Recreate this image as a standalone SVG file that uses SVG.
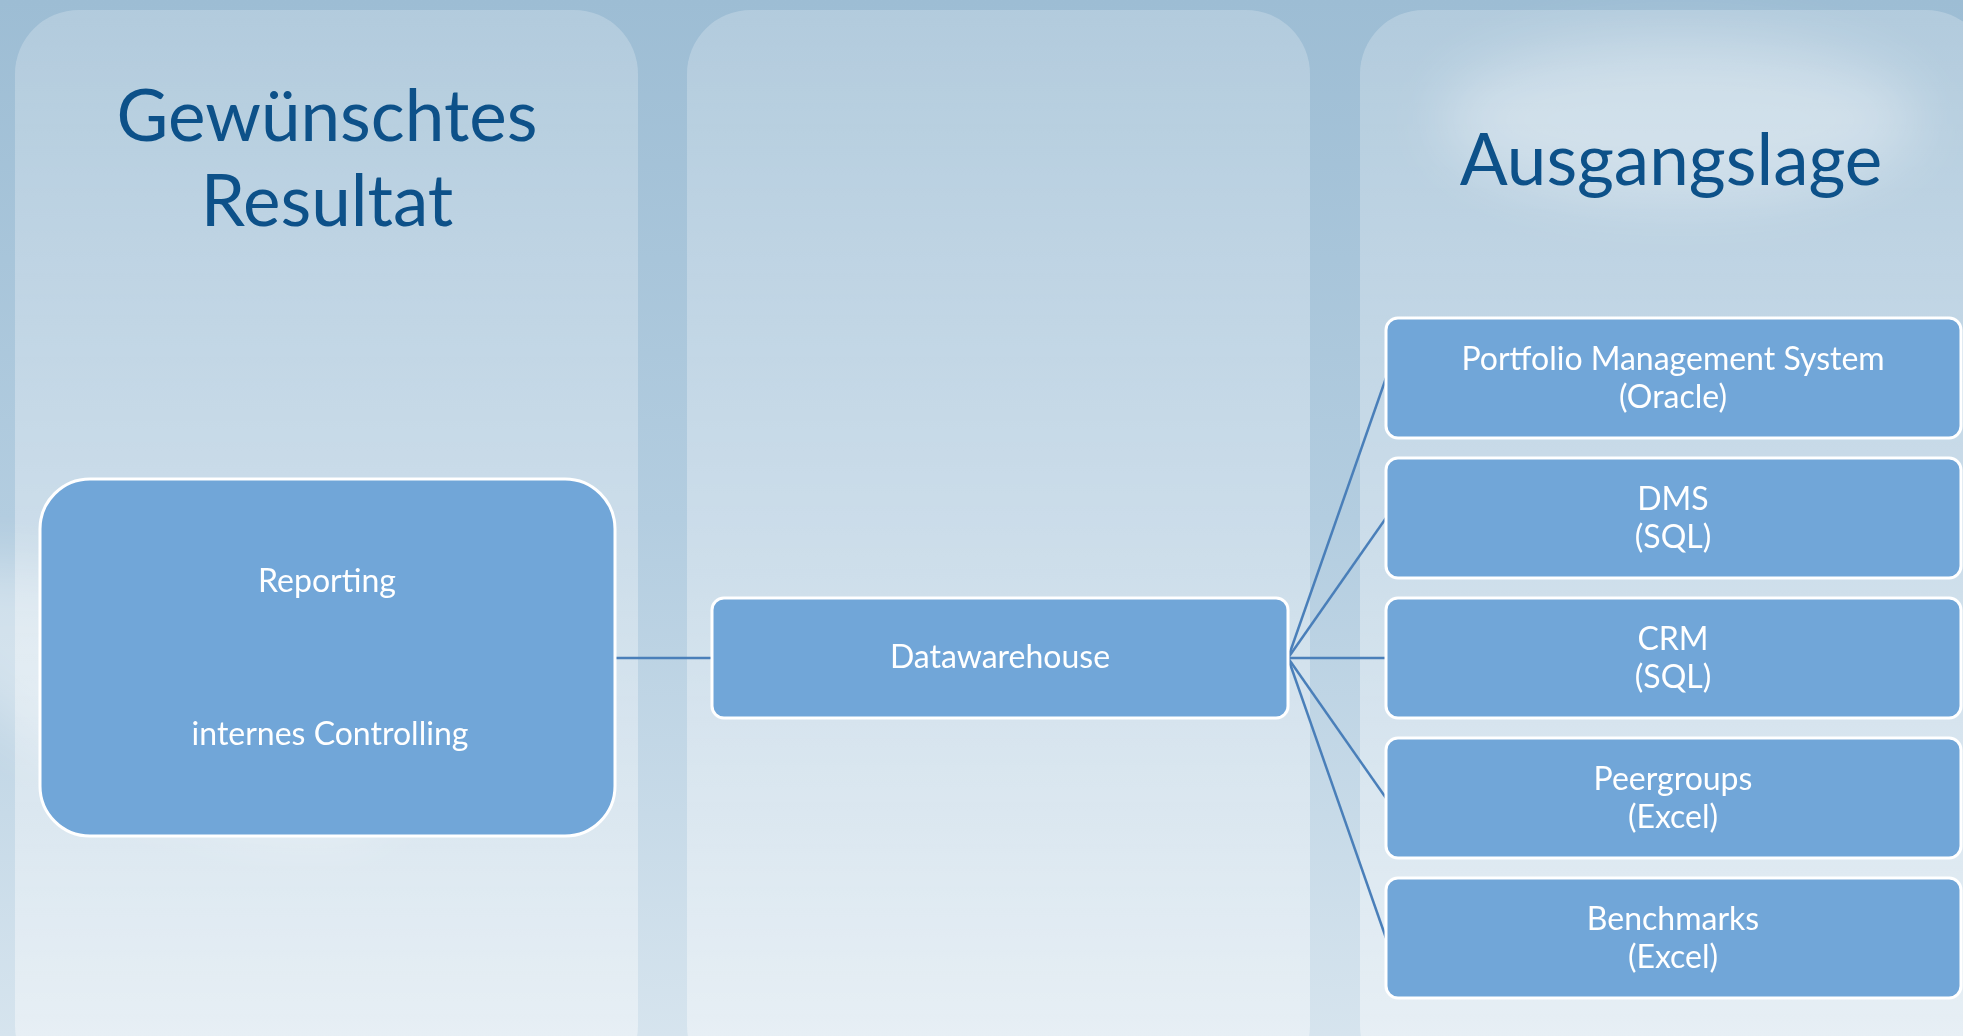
<svg xmlns="http://www.w3.org/2000/svg" width="1963" height="1036" viewBox="0 0 1963 1036">
<defs>
<linearGradient id="bg" x1="0" y1="0" x2="0" y2="1">
<stop offset="0" stop-color="#9dbdd4"/>
<stop offset="0.5" stop-color="#b3cde0"/>
<stop offset="1" stop-color="#d6e4ee"/>
</linearGradient>
<linearGradient id="panel" x1="0" y1="0" x2="0" y2="1">
<stop offset="0" stop-color="#ffffff" stop-opacity="0.22"/>
<stop offset="1" stop-color="#ffffff" stop-opacity="0.42"/>
</linearGradient>
<filter id="blur" x="-20%" y="-20%" width="140%" height="140%"><feGaussianBlur stdDeviation="30"/></filter>
<style>
.node{fill:#71a6d8;stroke:#ffffff;stroke-width:3}
.nt{font-family:Lato,"Carlito","Open Sans",sans-serif;font-size:32px;fill:#ffffff;text-anchor:middle}
.title{font-family:Lato,"Carlito","Open Sans",sans-serif;font-size:71px;fill:#0d5189;text-anchor:middle}
.conn{stroke:#4a7fb9;stroke-width:2.5;fill:none}
.panel{fill:url(#panel)}
</style>
</defs>
<rect x="0" y="0" width="1963" height="1036" fill="url(#bg)"/>
<g filter="url(#blur)" opacity="0.35">
<ellipse cx="150" cy="700" rx="260" ry="90" fill="#ffffff" transform="rotate(25 150 700)"/>
<ellipse cx="1680" cy="120" rx="240" ry="80" fill="#ffffff"/>
</g>
<g id="panels">
<rect id="panel-left" class="panel" x="15" y="10" width="623" height="1080" rx="64"/>
<rect id="panel-middle" class="panel" x="687" y="10" width="623" height="1080" rx="64"/>
<rect id="panel-right" class="panel" x="1360" y="10" width="630" height="1080" rx="64"/>
</g>
<g id="titles">
<text id="title-left-1" class="title" x="327" y="141">Gewünschtes</text>
<text id="title-left-2" class="title" x="327" y="226">Resultat</text>
<text id="title-right" class="title" x="1671" y="185">Ausgangslage</text>
</g>
<g id="connectors">
<line class="conn" x1="615" y1="658" x2="712" y2="658"/>
<line class="conn" x1="1288" y1="658" x2="1386" y2="378"/>
<line class="conn" x1="1288" y1="658" x2="1386" y2="518"/>
<line class="conn" x1="1288" y1="658" x2="1386" y2="658"/>
<line class="conn" x1="1288" y1="658" x2="1386" y2="798"/>
<line class="conn" x1="1288" y1="658" x2="1386" y2="938"/>
</g>
<g id="node-reporting">
<rect class="node" x="40" y="479" width="575" height="357" rx="50"/>
<text class="nt" x="327" y="592">Reporting</text>
<text class="nt" x="330" y="745">internes Controlling</text>
</g>
<g id="node-datawarehouse">
<rect class="node" x="712" y="598" width="576" height="120" rx="12"/>
<text class="nt" x="1000" y="668">Datawarehouse</text>
</g>
<g id="node-pms">
<rect class="node" x="1386" y="318" width="575" height="120" rx="12"/>
<text class="nt" x="1673" y="370">Portfolio Management System</text>
<text class="nt" x="1673" y="408">(Oracle)</text>
</g>
<g id="node-dms">
<rect class="node" x="1386" y="458" width="575" height="120" rx="12"/>
<text class="nt" x="1673" y="510">DMS</text>
<text class="nt" x="1673" y="548">(SQL)</text>
</g>
<g id="node-crm">
<rect class="node" x="1386" y="598" width="575" height="120" rx="12"/>
<text class="nt" x="1673" y="650">CRM</text>
<text class="nt" x="1673" y="688">(SQL)</text>
</g>
<g id="node-peergroups">
<rect class="node" x="1386" y="738" width="575" height="120" rx="12"/>
<text class="nt" x="1673" y="790">Peergroups</text>
<text class="nt" x="1673" y="828">(Excel)</text>
</g>
<g id="node-benchmarks">
<rect class="node" x="1386" y="878" width="575" height="120" rx="12"/>
<text class="nt" x="1673" y="930">Benchmarks</text>
<text class="nt" x="1673" y="968">(Excel)</text>
</g>
</svg>
